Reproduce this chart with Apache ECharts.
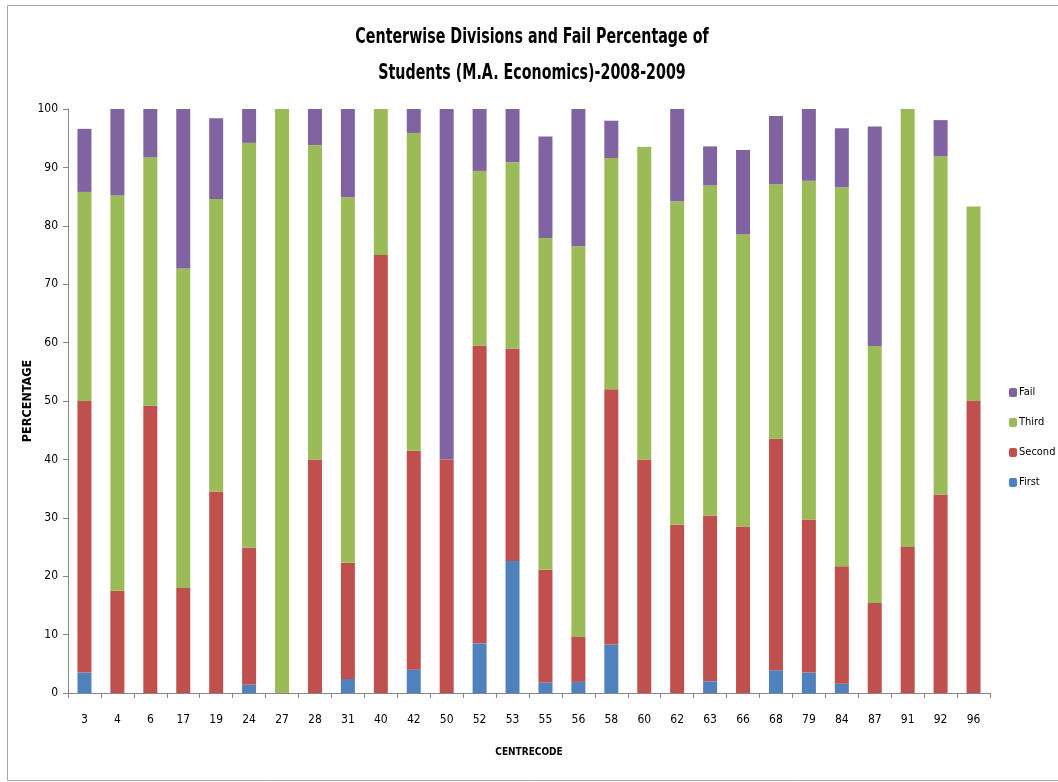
<!DOCTYPE html>
<html><head><meta charset="utf-8">
<script src="https://cdn.jsdelivr.net/npm/echarts@6/dist/echarts.min.js"></script>
<style>html,body{margin:0;padding:0;background:#fff}#c{width:1058px;height:782px}</style>
</head><body><div id="c"></div>
<script>
const categories = ['3','4','6','17','19','24','27','28','31','40','42','50','52','53','55','56','58','60','62','63','66','68','79','84','87','91','92','96'];
const first  = [3.5,0,0,0,0,1.4,0,0,2.4,0,4.0,0,8.5,22.6,1.8,1.9,8.3,0,0,2.0,0,3.9,3.5,1.6,0,0,0,0];
const second = [46.5,17.5,49.2,18.0,34.5,23.5,0,40,19.9,75,37.5,40,51.0,36.4,19.3,7.7,43.7,40,28.8,28.4,28.5,39.7,26.2,20.1,15.4,25,34.0,50];
const third  = [35.8,67.7,42.5,54.7,50.1,69.3,100,53.8,62.6,25,54.4,0,29.9,31.9,56.8,66.9,39.6,53.5,55.4,56.5,50.0,43.5,58.0,64.9,44.0,75,57.9,33.3];
const fail   = [10.8,14.8,8.3,27.3,13.8,5.8,0,6.2,15.1,0,4.1,60,10.6,9.1,17.4,23.5,6.4,0,15.8,6.7,14.5,11.7,12.3,10.1,37.6,0,6.2,0];
const seriesNames = ['First','Second','Third','Fail'];
const titleLines = ['Centerwise Divisions and Fail Percentage of','Students (M.A. Economics)-2008-2009'];
const colors = ['#4F81BD','#C0504D','#9BBB59','#8064A2'];
const font = '"DejaVu Sans Condensed","Liberation Sans Narrow",sans-serif';
const chart = echarts.init(document.getElementById('c'));
const dataSets = [first, second, third, fail];
chart.setOption({
  animation:false,
  graphic:[
    {type:'rect',shape:{x:7.5,y:5.5,width:1060,height:775},style:{fill:'none',stroke:'#a6a6a6',lineWidth:1}},
    {type:'text',x:532,y:37,scaleX:0.72,style:{text:titleLines[0],font:'bold 22px '+font,fill:'#000',textAlign:'center',textVerticalAlign:'middle'}},
    {type:'text',x:532,y:73,scaleX:0.72,style:{text:titleLines[1],font:'bold 22px '+font,fill:'#000',textAlign:'center',textVerticalAlign:'middle'}}
  ],
  legend:{orient:'vertical',left:1004,top:382,itemWidth:8,itemHeight:9,itemGap:19,
    data:['Fail','Third','Second','First'],
    textStyle:{fontFamily:font,fontSize:11,color:'#000',padding:[0,0,0,-3]}},
  grid:{left:68,right:68,top:109,bottom:89,containLabel:false},
  xAxis:{type:'category',data:categories,name:'CENTRECODE',nameLocation:'middle',nameGap:54,nameMoveOverlap:false,
    nameTextStyle:{fontFamily:font,fontSize:10,fontWeight:'bold',color:'#000'},
    axisLine:{lineStyle:{color:'#868686'}},axisTick:{show:true,length:5,lineStyle:{color:'#868686'}},
    axisLabel:{fontFamily:font,fontSize:12,color:'#000',margin:21,interval:0}},
  yAxis:{type:'value',min:0,max:100,interval:10,name:'PERCENTAGE',nameLocation:'middle',nameGap:34,nameMoveOverlap:false,
    nameTextStyle:{fontFamily:font,fontSize:12.5,fontWeight:'bold',color:'#000'},
    axisLine:{show:true,lineStyle:{color:'#868686'}},axisTick:{show:true,length:5,lineStyle:{color:'#868686'}},
    splitLine:{show:false},axisLabel:{fontFamily:font,fontSize:12,color:'#000',margin:10}},
  series:seriesNames.map((n,i)=>({name:n,type:'bar',stack:'all',barWidth:14,data:dataSets[i],
    itemStyle:{color:colors[i]}}))
});
</script></body></html>
